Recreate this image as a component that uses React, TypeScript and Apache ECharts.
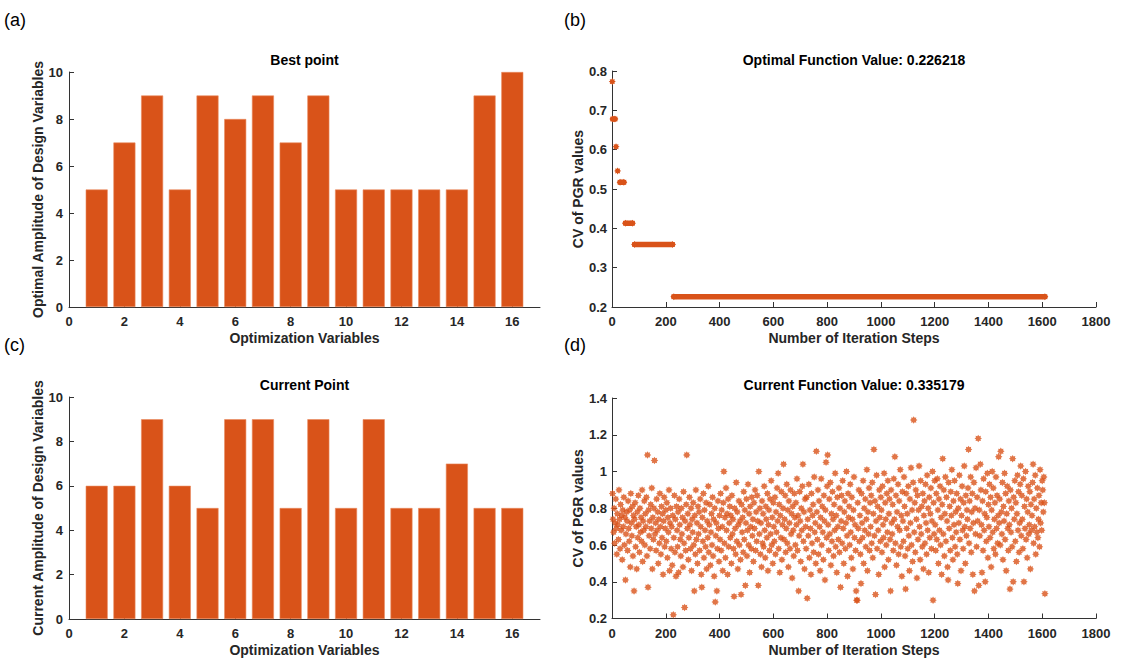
import React, { useEffect, useRef } from "react";
import * as echarts from "echarts";

// ---------- data ----------
const variableIndex = [1, 2, 3, 4, 5, 6, 7, 8, 9, 10, 11, 12, 13, 14, 15, 16];
const variableTicks = [0, 2, 4, 6, 8, 10, 12, 14, 16];
const bestAmplitude = [5, 7, 9, 5, 9, 8, 9, 7, 9, 5, 5, 5, 5, 5, 9, 10];
const currentAmplitude = [6, 6, 9, 6, 5, 9, 9, 5, 9, 5, 9, 5, 5, 7, 5, 5];

// best-so-far CV: constant runs (start step, end step, value)
const bestRunStart = [1, 3, 15, 21, 30, 50, 84, 230];
const bestRunEnd = [1, 11, 15, 21, 44, 76, 225, 1610];
const bestRunValue = [0.773, 0.678, 0.6076, 0.546, 0.517, 0.413, 0.359, 0.226218];

// current CV, one value every 2 iteration steps (steps 2, 4, ..., 1610)
const currentStepSpacing = 2;
const currentCV = [
  0.88, 0.74, 0.67, 0.80, 0.61, 0.72, 0.85, 0.69, 0.55, 0.77, 0.71, 0.63, 0.90, 0.74, 0.58, 0.82, 0.68, 0.76, 0.52, 0.79,
  0.70, 0.86, 0.60, 0.75, 0.41, 0.66, 0.78, 0.73, 0.57, 0.84, 0.69, 0.62, 0.79, 0.48, 0.88, 0.72, 0.65, 0.81, 0.54, 0.76,
  0.35, 0.74, 0.83, 0.59, 0.70, 0.47, 0.78, 0.64, 0.87, 0.71, 0.56, 0.80, 0.67, 0.75, 0.62, 0.90, 0.51, 0.73, 0.68, 0.84,
  0.60, 0.77, 0.70, 0.86, 0.54, 1.09, 0.37, 0.79, 0.65, 0.73, 0.58, 0.82, 0.69, 0.91, 0.47, 0.75, 0.63, 0.80, 1.06, 0.66,
  0.72, 0.57, 0.85, 0.68, 0.78, 0.50, 0.74, 0.61, 0.88, 0.70, 0.55, 0.81, 0.64, 0.77, 0.44, 0.73, 0.86, 0.59, 0.69, 0.79,
  0.62, 0.83, 0.53, 0.75, 0.67, 0.90, 0.46, 0.72, 0.80, 0.58, 0.70, 0.49, 0.76, 0.22, 0.64, 0.87, 0.56, 0.74, 0.43, 0.81,
  0.68, 0.59, 0.78, 0.45, 0.85, 0.71, 0.63, 0.54, 0.80, 0.66, 0.75, 0.48, 0.89, 0.61, 0.26, 0.73, 0.57, 0.82, 1.09, 0.69,
  0.77, 0.52, 0.64, 0.86, 0.71, 0.58, 0.80, 0.46, 0.74, 0.67, 0.83, 0.60, 0.35, 0.76, 0.55, 0.90, 0.63, 0.72, 0.50, 0.81,
  0.66, 0.78, 0.57, 0.85, 0.70, 0.44, 0.37, 0.75, 0.62, 0.88, 0.53, 0.79, 0.68, 0.59, 0.83, 0.47, 0.73, 0.64, 0.92, 0.56,
  0.71, 0.82, 0.49, 0.67, 0.77, 0.60, 0.86, 0.54, 0.74, 0.43, 0.80, 0.29, 0.65, 0.72, 0.35, 0.58, 0.84, 0.69, 0.51, 0.76,
  0.63, 0.88, 0.57, 0.79, 0.70, 0.46, 0.83, 1.00, 0.61, 0.75, 0.53, 0.91, 0.68, 0.77, 0.44, 0.85, 0.59, 0.72, 0.81, 0.64,
  0.76, 0.50, 0.87, 0.66, 0.74, 0.58, 0.32, 0.80, 0.69, 0.55, 0.94, 0.62, 0.78, 0.47, 0.71, 0.84, 0.60, 0.73, 0.52, 0.33,
  0.82, 0.67, 0.75, 0.56, 0.89, 0.63, 0.79, 0.38, 0.72, 0.85, 0.54, 0.68, 0.93, 0.60, 0.77, 0.45, 0.81, 0.70, 0.58, 0.86,
  0.65, 0.74, 0.51, 0.83, 0.69, 0.90, 0.57, 0.78, 0.62, 0.87, 0.73, 0.38, 1.00, 0.66, 0.80, 0.55, 0.72, 0.48, 0.84, 0.61,
  0.77, 0.59, 0.92, 0.68, 0.53, 0.81, 0.74, 0.64, 0.88, 0.46, 0.71, 0.79, 0.57, 0.85, 0.66, 0.95, 0.60, 0.75, 0.50, 0.83,
  0.70, 0.62, 0.86, 0.55, 0.78, 0.67, 0.91, 0.73, 0.99, 0.58, 0.82, 0.45, 0.76, 0.64, 0.89, 0.52, 0.71, 0.80, 1.04, 0.63,
  0.74, 0.87, 0.56, 0.69, 0.93, 0.61, 0.79, 0.48, 0.84, 0.72, 0.58, 0.90, 0.66, 0.77, 0.42, 0.81, 0.68, 0.54, 0.88, 0.75,
  0.60, 0.83, 0.71, 0.96, 0.57, 0.76, 0.35, 0.65, 0.89, 0.73, 0.51, 0.80, 0.68, 0.92, 1.04, 0.62, 0.78, 0.47, 0.85, 0.70,
  0.58, 0.86, 0.31, 0.74, 0.65, 0.93, 0.53, 0.79, 0.69, 0.44, 0.88, 0.61, 0.76, 0.82, 0.56, 0.97, 0.67, 0.72, 0.50, 1.11,
  0.78, 0.63, 0.90, 0.55, 0.84, 0.70, 0.46, 0.75, 0.96, 0.60, 0.81, 0.67, 0.52, 0.87, 0.73, 0.41, 0.79, 1.05, 0.64, 0.92,
  1.09, 0.71, 0.57, 0.85, 0.66, 0.94, 0.49, 0.77, 0.62, 0.89, 0.74, 0.54, 0.82, 0.68, 0.99, 0.59, 0.76, 0.45, 0.86, 0.70,
  0.63, 0.91, 0.56, 0.80, 0.37, 0.73, 0.87, 0.61, 0.95, 0.69, 0.50, 0.78, 0.84, 0.58, 0.72, 1.00, 0.65, 0.43, 0.88, 0.75,
  0.81, 0.60, 0.93, 0.67, 0.53, 0.86, 0.74, 0.47, 0.79, 0.97, 0.64, 0.71, 0.57, 0.35, 0.30, 0.30, 0.83, 0.69, 0.90, 0.62,
  0.76, 0.55, 0.39, 0.88, 0.72, 0.64, 0.95, 0.50, 0.80, 0.68, 0.85, 0.59, 0.74, 1.01, 0.46, 0.78, 0.66, 0.91, 0.57, 0.83,
  0.70, 0.87, 0.61, 0.94, 0.53, 0.77, 1.12, 0.65, 0.84, 0.33, 0.73, 0.98, 0.58, 0.81, 0.68, 0.44, 0.90, 0.75, 0.62, 0.86,
  0.79, 0.56, 0.92, 0.71, 0.64, 0.99, 0.48, 0.83, 0.74, 0.60, 0.88, 0.67, 0.95, 0.52, 0.77, 0.85, 0.63, 0.35, 0.90, 0.72,
  0.66, 0.82, 0.57, 0.96, 0.74, 1.08, 0.61, 0.87, 0.49, 0.78, 0.70, 0.93, 0.55, 0.84, 0.68, 1.01, 0.59, 0.76, 0.43, 0.89,
  0.73, 0.62, 0.97, 0.81, 0.54, 0.36, 0.88, 0.69, 0.77, 0.58, 0.92, 0.65, 0.46, 0.85, 0.72, 1.02, 0.60, 0.79, 0.51, 0.94,
  1.28, 0.67, 0.83, 0.56, 0.90, 0.74, 0.42, 0.87, 0.63, 0.79, 1.03, 0.70, 0.52, 0.95, 0.66, 0.81, 0.59, 0.88, 0.47, 0.76,
  0.84, 0.61, 0.93, 0.72, 0.55, 0.98, 0.68, 0.80, 0.45, 0.86, 0.64, 0.77, 0.91, 0.58, 0.73, 1.00, 0.30, 0.83, 0.66, 0.95,
  0.71, 0.57, 0.88, 0.63, 0.96, 0.79, 0.50, 0.85, 0.68, 0.92, 0.60, 0.75, 0.44, 0.82, 1.07, 0.66, 0.90, 0.54, 0.77, 0.97,
  0.62, 0.86, 0.73, 0.48, 0.41, 0.94, 0.69, 0.81, 0.57, 0.89, 0.76, 1.01, 0.64, 0.52, 0.84, 0.71, 0.95, 0.59, 0.78, 0.67,
  0.88, 0.55, 0.39, 0.80, 0.72, 0.98, 0.63, 0.85, 0.46, 0.76, 0.92, 0.68, 0.58, 0.83, 1.03, 0.70, 0.50, 0.87, 0.65, 0.79,
  0.74, 0.91, 1.12, 0.61, 0.84, 0.69, 0.97, 0.56, 0.78, 0.88, 0.44, 0.72, 0.94, 0.35, 0.80, 0.66, 1.02, 0.59, 0.86, 0.73,
  1.18, 0.38, 0.79, 0.65, 1.04, 0.90, 0.71, 0.45, 0.84, 0.57, 0.96, 0.68, 0.77, 0.40, 0.89, 0.62, 0.75, 0.99, 0.53, 0.82,
  0.70, 0.93, 0.64, 0.86, 0.48, 0.79, 1.00, 0.67, 0.91, 0.58, 0.74, 0.83, 0.55, 0.97, 0.69, 0.87, 0.61, 0.76, 1.08, 0.72,
  0.85, 0.60, 1.11, 0.78, 0.66, 0.94, 0.52, 0.81, 0.73, 0.99, 0.63, 0.88, 0.46, 0.77, 0.92, 0.69, 0.57, 0.84, 0.71, 0.36,
  0.90, 0.67, 0.80, 0.59, 1.07, 0.40, 0.86, 0.74, 0.95, 0.62, 0.83, 0.51, 0.77, 0.98, 0.68, 0.89, 0.56, 0.72, 0.93, 1.03,
  0.65, 0.87, 0.74, 0.58, 0.96, 0.40, 0.81, 0.69, 1.00, 0.63, 0.85, 0.53, 0.78, 0.92, 0.66, 0.71, 0.89, 0.47, 0.82, 0.68,
  0.76, 0.94, 1.04, 0.61, 0.85, 0.70, 0.98, 0.55, 0.80, 0.67, 0.91, 0.64, 0.74, 0.87, 0.59, 1.01, 0.72, 0.83, 0.68, 0.95,
  0.90, 0.78, 0.97, 0.83, 0.335179,
];

// ---------- styles ----------
const FONT = '"Liberation Sans", Arial, Helvetica, sans-serif';
const TEXT = "#262626";
const ORANGE = "#D95319";
const ASTERISK =
  "path://M10 0L12.49 4L17.07 2.93L16 7.51L20 10L16 12.49L17.07 17.07L12.49 16L10 20L7.51 16L2.93 17.07L4 12.49L0 10L4 7.51L2.93 2.93L7.51 4Z";

const grids = [
  { left: 69, top: 72, width: 471, height: 235 },
  { left: 612, top: 71, width: 484, height: 236 },
  { left: 69, top: 397, width: 471, height: 222 },
  { left: 612, top: 398, width: 484, height: 220.5 },
];

function axisBase(gridIndex: number, name: string, nameGap: number, labelMargin: number) {
  return {
    gridIndex,
    type: "value" as const,
    name,
    nameLocation: "middle" as const,
    nameGap,
    nameTextStyle: { color: TEXT, fontFamily: FONT, fontSize: 14, fontWeight: "bold" },
    axisLine: { show: true, onZero: false, lineStyle: { color: "#333333", width: 1 } },
    axisTick: { show: true, inside: true, length: 5, lineStyle: { color: "#333333", width: 1 } },
    axisLabel: {
      color: TEXT,
      fontFamily: FONT,
      fontSize: 13,
      fontWeight: "bold",
      margin: labelMargin,
      formatter: (v: number) => String(Math.round(v * 1000) / 1000),
    },
    splitLine: { show: false },
  };
}

function barXAxis(gridIndex: number) {
  const base = axisBase(gridIndex, "Optimization Variables", 24, 8);
  return {
    ...base,
    min: 0,
    max: 17,
    axisTick: { ...base.axisTick, customValues: variableTicks },
    axisLabel: { ...base.axisLabel, customValues: variableTicks },
  };
}

function stepXAxis(gridIndex: number) {
  return { ...axisBase(gridIndex, "Number of Iteration Steps", 24, 8), min: 0, max: 1800, interval: 200 };
}

export default function App() {
  const ref = useRef<HTMLDivElement>(null);

  useEffect(() => {
    if (!ref.current) return;
    const chart = echarts.init(ref.current, undefined, { renderer: "svg" });

    const bestBars = variableIndex.map((x, i) => [x, bestAmplitude[i]]);
    const currentBars = variableIndex.map((x, i) => [x, currentAmplitude[i]]);
    const currentPoints = currentCV.map((v, i) => [(i + 1) * currentStepSpacing, v]);

    const bestRunSeries = bestRunValue.map((v, i) => ({
      type: "line",
      xAxisIndex: 1,
      yAxisIndex: 1,
      data:
        bestRunStart[i] === bestRunEnd[i]
          ? [[bestRunStart[i], v]]
          : [
              [bestRunStart[i], v],
              [bestRunEnd[i], v],
            ],
      symbol: ASTERISK,
      symbolSize: 7,
      showSymbol: true,
      itemStyle: { color: ORANGE },
      lineStyle: { color: ORANGE, width: 5.5, cap: "round" },
      clip: false,
      silent: true,
      z: 3,
    }));

    const option: any = {
      animation: false,
      backgroundColor: "#ffffff",
      grid: grids,
      xAxis: [barXAxis(0), stepXAxis(1), barXAxis(2), stepXAxis(3)],
      yAxis: [
        { ...axisBase(0, "Optimal Amplitude of Design Variables", 20, 6), min: 0, max: 10, interval: 2 },
        { ...axisBase(1, "CV of PGR values", 26, 5), min: 0.2, max: 0.8, interval: 0.1 },
        { ...axisBase(2, "Current Amplitude of Design Variables", 20, 6), min: 0, max: 10, interval: 2 },
        { ...axisBase(3, "CV of PGR values", 26, 5), min: 0.2, max: 1.4, interval: 0.2 },
      ],
      series: [
        {
          type: "bar",
          xAxisIndex: 0,
          yAxisIndex: 0,
          data: bestBars,
          barWidth: 22,
          itemStyle: { color: ORANGE, borderColor: "#E98A5E", borderWidth: 0.6 },
          silent: true,
        },
        {
          type: "bar",
          xAxisIndex: 2,
          yAxisIndex: 2,
          data: currentBars,
          barWidth: 22,
          itemStyle: { color: ORANGE, borderColor: "#E98A5E", borderWidth: 0.6 },
          silent: true,
        },
        ...bestRunSeries,
        {
          type: "scatter",
          xAxisIndex: 3,
          yAxisIndex: 3,
          data: currentPoints,
          symbol: ASTERISK,
          symbolSize: 7.5,
          itemStyle: { color: ORANGE },
          clip: false,
          silent: true,
        },
      ],
      graphic: [
        ...[
          { t: "(a)", x: 4, y: 20 },
          { t: "(b)", x: 564, y: 20 },
          { t: "(c)", x: 4, y: 345 },
          { t: "(d)", x: 564, y: 345 },
        ].map((p) => ({
          type: "text",
          x: p.x,
          y: p.y,
          style: {
            text: p.t,
            fill: "#000",
            font: `normal 18px ${FONT}`,
            textAlign: "left",
            align: "left",
            textVerticalAlign: "middle",
            verticalAlign: "middle",
          },
        })),
        ...[
          { t: "Best point", x: 304.5, y: 60 },
          { t: "Optimal Function Value: 0.226218", x: 854, y: 60 },
          { t: "Current Point", x: 304.5, y: 385 },
          { t: "Current Function Value: 0.335179", x: 854, y: 385 },
        ].map((p) => ({
          type: "text",
          x: p.x,
          y: p.y,
          style: {
            text: p.t,
            fill: "#000",
            font: `bold 14px ${FONT}`,
            textAlign: "center",
            align: "center",
            textVerticalAlign: "middle",
            verticalAlign: "middle",
          },
        })),
      ],
    };

    chart.setOption(option);
    return () => chart.dispose();
  }, []);

  return (
    <div
      ref={ref}
      style={{ position: "fixed", left: 0, top: 0, width: 1122, height: 660, background: "#fff" }}
    />
  );
}
